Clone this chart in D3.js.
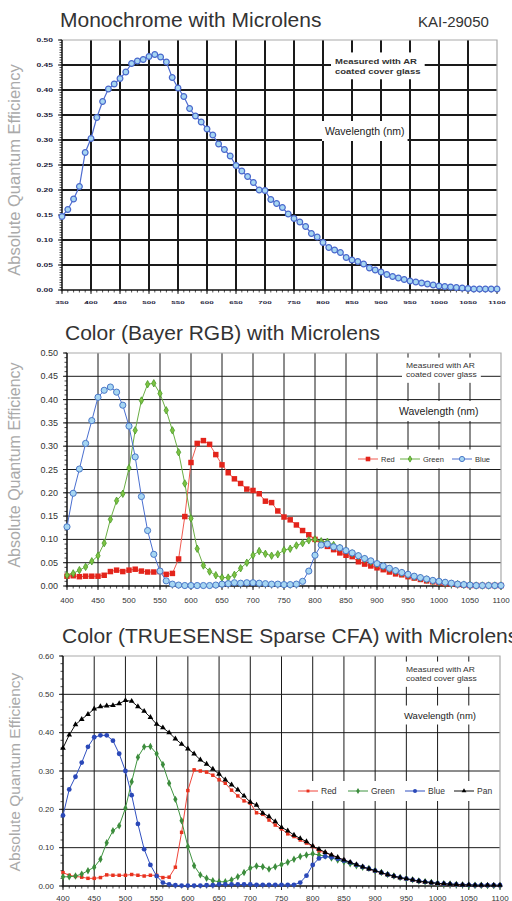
<!DOCTYPE html>
<html>
<head>
<meta charset="utf-8">
<script src="https://cdn.jsdelivr.net/npm/d3@7"></script>
<style>
  body { margin: 0; background: #fff; }
  svg { display: block; }
  text { font-family: "Liberation Sans", Arial, sans-serif; }
</style>
</head>
<body>
<svg id="chart" width="512" height="901"></svg>
<script>
// ---- data ----
const monoWl = [350,360,370,380,390,400,410,420,430,440,450,460,470,480,490,500,510,520,530,540,
  550,560,570,580,590,600,610,620,630,640,650,660,670,680,690,700,710,720,730,740,
  750,760,770,780,790,800,810,820,830,840,850,860,870,880,890,900,910,920,930,940,
  950,960,970,980,990,1000,1010,1020,1030,1040,1050,1060,1070,1080,1090,1100];
const monoQE = [0.147,0.161,0.182,0.207,0.275,0.303,0.345,0.377,0.402,0.412,
  0.423,0.436,0.453,0.458,0.461,0.467,0.471,0.466,0.456,0.425,
  0.404,0.387,0.363,0.348,0.336,0.322,0.310,0.292,0.281,0.268,
  0.249,0.238,0.227,0.215,0.200,0.199,0.181,0.173,0.165,0.152,
  0.143,0.136,0.127,0.113,0.106,0.095,0.085,0.080,0.075,0.065,
  0.060,0.057,0.052,0.044,0.040,0.036,0.031,0.027,0.024,0.021,
  0.018,0.016,0.014,0.012,0.010,0.008,0.007,0.006,0.005,0.004,
  0.003,0.002,0.002,0.002,0.002,0.002];

const colorWl = [400,410,420,430,440,450,460,470,480,490,500,510,520,530,540,550,560,570,580,590,
  600,610,620,630,640,650,660,670,680,690,700,710,720,730,740,750,760,770,780,790,
  800,810,820,830,840,850,860,870,880,890,900,910,920,930,940,950,960,970,980,990,
  1000,1010,1020,1030,1040,1050,1060,1070,1080,1090,1100];

const bayerRed = [0.021,0.022,0.020,0.021,0.021,0.021,0.023,0.031,0.034,0.031,
  0.034,0.036,0.032,0.030,0.030,0.031,0.025,0.027,0.058,0.149,
  0.265,0.306,0.312,0.304,0.282,0.260,0.243,0.230,0.220,0.208,
  0.205,0.198,0.182,0.179,0.161,0.148,0.142,0.131,0.119,0.110,
  0.100,0.092,0.085,0.078,0.071,0.066,0.063,0.052,0.047,0.043,
  0.039,0.035,0.030,0.026,0.024,0.020,0.017,0.014,0.011,0.009,
  0.007,0.005,0.004,0.003,0.002,0.001,0.001,0.001,0.001,0.001,0.001];
const bayerGreen = [0.023,0.027,0.034,0.041,0.053,0.065,0.092,0.143,0.183,0.198,
  0.253,0.334,0.398,0.433,0.435,0.413,0.377,0.334,0.287,0.220,
  0.145,0.080,0.044,0.031,0.023,0.018,0.018,0.024,0.038,0.050,
  0.066,0.075,0.069,0.065,0.068,0.077,0.080,0.087,0.092,0.098,
  0.100,0.096,0.095,0.088,0.082,0.076,0.070,0.064,0.058,0.052,
  0.047,0.042,0.037,0.032,0.028,0.024,0.020,0.017,0.014,0.011,
  0.009,0.007,0.005,0.004,0.003,0.002,0.001,0.001,0.001,0.001,0.001];
const bayerBlue = [0.127,0.199,0.251,0.306,0.355,0.405,0.420,0.427,0.416,0.388,
  0.343,0.277,0.192,0.119,0.068,0.032,0.011,0.004,0.002,0.001,
  0.001,0.001,0.001,0.001,0.002,0.004,0.005,0.007,0.006,0.007,
  0.007,0.006,0.005,0.004,0.004,0.003,0.003,0.004,0.010,0.032,
  0.066,0.088,0.090,0.084,0.082,0.076,0.071,0.065,0.059,0.054,
  0.048,0.043,0.038,0.033,0.029,0.025,0.021,0.018,0.015,0.012,
  0.010,0.008,0.006,0.004,0.003,0.002,0.001,0.001,0.001,0.001,0.001];

const tsRed = [0.035,0.028,0.025,0.023,0.020,0.020,0.022,0.029,0.028,0.028,
  0.028,0.030,0.028,0.026,0.028,0.028,0.022,0.023,0.049,0.140,
  0.249,0.303,0.300,0.297,0.289,0.277,0.268,0.250,0.235,0.222,
  0.216,0.191,0.187,0.172,0.159,0.149,0.136,0.129,0.120,0.112,
  0.103,0.091,0.087,0.080,0.073,0.067,0.061,0.055,0.049,0.044,
  0.039,0.034,0.029,0.025,0.021,0.018,0.015,0.012,0.010,0.008,
  0.006,0.005,0.004,0.003,0.002,0.002,0.001,0.001,0.001,0.001,0.001];
const tsGreen = [0.024,0.024,0.026,0.031,0.040,0.049,0.070,0.113,0.144,0.157,
  0.203,0.272,0.336,0.363,0.364,0.345,0.317,0.268,0.226,0.170,
  0.103,0.053,0.029,0.020,0.014,0.011,0.011,0.016,0.024,0.035,
  0.047,0.052,0.050,0.044,0.050,0.056,0.062,0.070,0.077,0.081,
  0.084,0.081,0.078,0.073,0.068,0.063,0.058,0.053,0.049,0.046,
  0.040,0.035,0.030,0.026,0.022,0.019,0.016,0.013,0.011,0.009,
  0.007,0.006,0.005,0.004,0.003,0.002,0.002,0.002,0.001,0.001,0.001];
const tsBlue = [0.184,0.252,0.285,0.322,0.363,0.388,0.393,0.393,0.379,0.345,
  0.300,0.237,0.162,0.096,0.055,0.026,0.009,0.004,0.002,0.001,
  0.001,0.001,0.001,0.002,0.002,0.004,0.004,0.004,0.004,0.004,
  0.004,0.003,0.003,0.003,0.003,0.003,0.003,0.003,0.009,0.027,
  0.055,0.072,0.077,0.075,0.071,0.066,0.061,0.055,0.050,0.045,
  0.040,0.035,0.030,0.026,0.022,0.019,0.016,0.013,0.011,0.009,
  0.007,0.006,0.005,0.004,0.003,0.003,0.002,0.002,0.002,0.002,0.002];
const tsPan = [0.360,0.394,0.421,0.435,0.448,0.462,0.468,0.470,0.471,0.476,
  0.484,0.482,0.468,0.456,0.440,0.422,0.413,0.400,0.384,0.370,
  0.358,0.345,0.329,0.318,0.305,0.292,0.277,0.264,0.251,0.235,
  0.219,0.211,0.190,0.181,0.168,0.153,0.144,0.133,0.124,0.116,
  0.104,0.096,0.088,0.081,0.075,0.068,0.062,0.056,0.050,0.045,
  0.040,0.035,0.030,0.026,0.022,0.019,0.016,0.013,0.011,0.009,
  0.007,0.006,0.005,0.004,0.003,0.003,0.002,0.002,0.002,0.002,0.002];

const monoXTicks = [350,400,450,500,550,600,650,700,750,800,850,900,950,1000,1050,1100];
const colorXTicks = [400,450,500,550,600,650,700,750,800,850,900,950,1000,1050,1100];
const yTicksHalf = [0,0.05,0.10,0.15,0.20,0.25,0.30,0.35,0.40,0.45,0.50];
const yTicksSix = [0,0.10,0.20,0.30,0.40,0.50,0.60];

const yTitle = "Absolute Quantum Efficiency";

// ---- setup ----
const svg = d3.select("#chart");

// white box behind text, sized from its own bbox
function boxed(g, pad) {
  const b = g.node().getBBox();
  g.insert("rect", ":first-child")
    .attr("x", b.x - pad[0]).attr("y", b.y - pad[1])
    .attr("width", b.width + 2 * pad[0]).attr("height", b.height + 2 * pad[1])
    .attr("fill", "#fff");
}

function drawPanel(p) {
  const x = d3.scaleLinear().domain(p.xDomain).range([p.left, p.right]);
  const y = d3.scaleLinear().domain([0, p.yMax]).range([p.bottom, p.top]);
  const g = svg.append("g");

  g.append("text").attr("x", p.titleX).attr("y", p.titleY)
    .attr("font-size", 21).attr("fill", "#333").text(p.title);

  g.append("text")
    .attr("transform", `translate(${p.yTitleX},${p.yTitleY}) rotate(-90)`)
    .attr("text-anchor", "middle").attr("font-size", p.yTitleSize)
    .attr("fill", "#aaa").text(yTitle);

  // gridlines
  g.append("g").selectAll("line").data(p.yTicks.slice(1, -1)).join("line")
    .attr("x1", p.left).attr("x2", p.right)
    .attr("y1", d => y(d)).attr("y2", d => y(d))
    .attr("stroke", "#1a1a1a").attr("stroke-width", p.gridW);
  g.append("g").selectAll("line").data(p.xTicks.slice(1, -1)).join("line")
    .attr("x1", d => x(d)).attr("x2", d => x(d))
    .attr("y1", p.top).attr("y2", p.bottom)
    .attr("stroke", "#1a1a1a").attr("stroke-width", p.gridW);
  // frame top/right
  g.append("path").attr("d", `M${p.left},${p.top}H${p.right}V${p.bottom}`)
    .attr("fill", "none").attr("stroke", "#aaa").attr("stroke-width", 1.2);

  // minor ticks
  const yMinor = d3.range(0, p.yMax + 1e-9, p.yMinor);
  g.append("g").selectAll("line").data(yMinor).join("line")
    .attr("x1", p.left - 2.5).attr("x2", p.left)
    .attr("y1", d => y(d)).attr("y2", d => y(d))
    .attr("stroke", "#222").attr("stroke-width", 0.8);
  g.append("g").selectAll("line").data(p.yTicks).join("line")
    .attr("x1", p.left - 4).attr("x2", p.left)
    .attr("y1", d => y(d)).attr("y2", d => y(d))
    .attr("stroke", "#222").attr("stroke-width", 1);
  const xMinor = d3.range(p.xDomain[0], p.xDomain[1] + 1e-9, 10);
  g.append("g").selectAll("line").data(xMinor).join("line")
    .attr("x1", d => x(d)).attr("x2", d => x(d))
    .attr("y1", p.bottom).attr("y2", p.bottom + 2.5)
    .attr("stroke", "#222").attr("stroke-width", 0.8);
  g.append("g").selectAll("line").data(p.xTicks).join("line")
    .attr("x1", d => x(d)).attr("x2", d => x(d))
    .attr("y1", p.bottom).attr("y2", p.bottom + 4)
    .attr("stroke", "#222").attr("stroke-width", 1);

  // axis lines
  g.append("path").attr("d", `M${p.left},${p.top}V${p.bottom}H${p.right}`)
    .attr("fill", "none").attr("stroke", "#111").attr("stroke-width", 1.5);

  // tick labels
  const fmt = d3.format(".2f");
  g.append("g").selectAll("text").data(p.yTicks).join("text")
    .attr("transform", d => `translate(${p.left - p.yLabelGap},${y(d)}) scale(1,${p.labelSquash})`)
    .attr("text-anchor", "end").attr("dominant-baseline", "central")
    .attr("font-size", p.labelSize).attr("font-weight", p.labelWeight)
    .attr("fill", p.labelColor).text(fmt);
  g.append("g").selectAll("text").data(p.xTicks).join("text")
    .attr("transform", d => `translate(${x(d)},${p.xLabelY}) scale(1,${p.labelSquash})`)
    .attr("text-anchor", "middle").attr("dominant-baseline", "central")
    .attr("font-size", p.xLabelSize).attr("font-weight", p.labelWeight)
    .attr("fill", p.labelColor).text(d => d);

  // annotation boxes
  const note = g.append("g");
  ["Measured with AR", "coated cover glass"].forEach((t, i) => {
    note.append("text")
      .attr("transform", `translate(${p.noteX},${p.noteY + i * p.noteLead}) scale(1,${p.noteSquash})`)
      .attr("font-size", p.noteSize).attr("font-weight", p.labelWeight).attr("fill", "#333")
      .text(t);
  });
  boxed(note, [4, 4]);

  const wave = g.append("g");
  wave.append("text").attr("x", p.waveX).attr("y", p.waveY)
    .attr("font-size", p.waveSize).attr("fill", "#222").text("Wavelength (nm)");
  boxed(wave, [3, 4]);

  // series
  const line = d3.line().x(d => x(d[0])).y(d => y(d[1]));
  p.series.forEach(s => {
    const pts = p.wl.map((w, i) => [w, s.values[i]]);
    g.append("path").datum(pts).attr("d", line)
      .attr("fill", "none").attr("stroke", s.line).attr("stroke-width", s.lw || 1);
    g.append("g").selectAll("path").data(pts).join("path")
      .attr("transform", d => `translate(${x(d[0])},${y(d[1])})`)
      .attr("d", d3.symbol(s.symbol, s.size))
      .attr("fill", s.fill).attr("stroke", s.stroke || "none").attr("stroke-width", s.sw || 0);
  });

  // legend
  if (p.legend) {
    const lg = g.append("g");
    p.series.forEach((s, i) => {
      const lx = p.legend.xs[i];
      lg.append("line").attr("x1", lx).attr("x2", lx + 20)
        .attr("y1", p.legend.y).attr("y2", p.legend.y)
        .attr("stroke", s.line).attr("stroke-width", 1);
      lg.append("path").attr("transform", `translate(${lx + 10},${p.legend.y})`)
        .attr("d", d3.symbol(s.symbol, s.size * 0.7))
        .attr("fill", s.fill).attr("stroke", s.stroke || "none").attr("stroke-width", s.sw || 0);
      lg.append("text").attr("x", lx + 23).attr("y", p.legend.y)
        .attr("dominant-baseline", "central").attr("font-size", p.legend.size)
        .attr("fill", "#333").text(s.name);
    });
    boxed(lg, [4, 5]);
  }
}

const lightBlue = "#a6d6f2";

drawPanel({
  title: "Monochrome with Microlens", titleX: 60, titleY: 27,
  left: 62, right: 497, top: 40, bottom: 290,
  xDomain: [350, 1100], yMax: 0.5, yMinor: 0.005,
  xTicks: monoXTicks, yTicks: yTicksHalf, gridW: 2,
  yTitleX: 20, yTitleY: 170, yTitleSize: 16.5,
  yLabelGap: 9, xLabelY: 302.5, labelSize: 8.5, xLabelSize: 8, labelSquash: 0.55,
  labelWeight: "bold", labelColor: "#1c1c3a",
  noteX: 335, noteY: 63.5, noteSize: 9.5, noteSquash: 0.8, noteLead: 10,
  waveX: 325, waveY: 135, waveSize: 10.5,
  wl: monoWl,
  series: [
    { name: "Mono", values: monoQE, line: "#4d6bd0", lw: 1.2, symbol: d3.symbolCircle, size: 26,
      fill: lightBlue, stroke: "#4a68cc", sw: 1.2 }
  ]
});

drawPanel({
  title: "Color (Bayer RGB) with Microlens", titleX: 65, titleY: 340,
  left: 67, right: 501, top: 353, bottom: 586,
  xDomain: [400, 1100], yMax: 0.5, yMinor: 0.01,
  xTicks: colorXTicks, yTicks: yTicksHalf, gridW: 1,
  yTitleX: 20, yTitleY: 465, yTitleSize: 16,
  yLabelGap: 9, xLabelY: 600, labelSize: 9, xLabelSize: 8, labelSquash: 1,
  labelWeight: "normal", labelColor: "#333",
  noteX: 406, noteY: 368, noteSize: 8.5, noteSquash: 0.85, noteLead: 9,
  waveX: 399, waveY: 415, waveSize: 10.5,
  wl: colorWl,
  legend: { y: 459, xs: [358, 400, 452], size: 7.5 },
  series: [
    { name: "Red", values: bayerRed, line: "#f05a50", symbol: d3.symbolSquare, size: 30, fill: "#e3241b" },
    { name: "Green", values: bayerGreen, line: "#6aae44", symbol: d3.symbolDiamond, size: 16,
      fill: "#7cc242", stroke: "#4a9a2a", sw: 0.8 },
    { name: "Blue", values: bayerBlue, line: "#4a6fd0", symbol: d3.symbolCircle, size: 30,
      fill: lightBlue, stroke: "#4a78c8", sw: 1 }
  ]
});

drawPanel({
  title: "Color (TRUESENSE Sparse CFA) with Microlens", titleX: 62, titleY: 643,
  left: 63, right: 500, top: 656, bottom: 886,
  xDomain: [400, 1100], yMax: 0.6, yMinor: 0.02,
  xTicks: colorXTicks, yTicks: yTicksSix, gridW: 1,
  yTitleX: 20, yTitleY: 772, yTitleSize: 15.5,
  yLabelGap: 9, xLabelY: 898, labelSize: 8, xLabelSize: 8, labelSquash: 1,
  labelWeight: "normal", labelColor: "#333",
  noteX: 406, noteY: 672, noteSize: 8.5, noteSquash: 0.85, noteLead: 9,
  waveX: 404, waveY: 718.5, waveSize: 9.5,
  wl: colorWl,
  legend: { y: 791, xs: [298, 348, 405, 454], size: 8.5 },
  series: [
    { name: "Red", values: tsRed, line: "#f0453a", symbol: d3.symbolSquare, size: 12, fill: "#e8321e" },
    { name: "Green", values: tsGreen, line: "#3f9440", symbol: d3.symbolDiamond, size: 16, fill: "#3c8c3c" },
    { name: "Blue", values: tsBlue, line: "#3050c0", symbol: d3.symbolCircle, size: 18, fill: "#2a48b8" },
    { name: "Pan", values: tsPan, line: "#111", symbol: d3.symbolTriangle, size: 14, fill: "#000" }
  ]
});

// part number top right
svg.append("text").attr("x", 418).attr("y", 27).attr("font-size", 15)
  .attr("fill", "#333").text("KAI-29050");
</script>
</body>
</html>
